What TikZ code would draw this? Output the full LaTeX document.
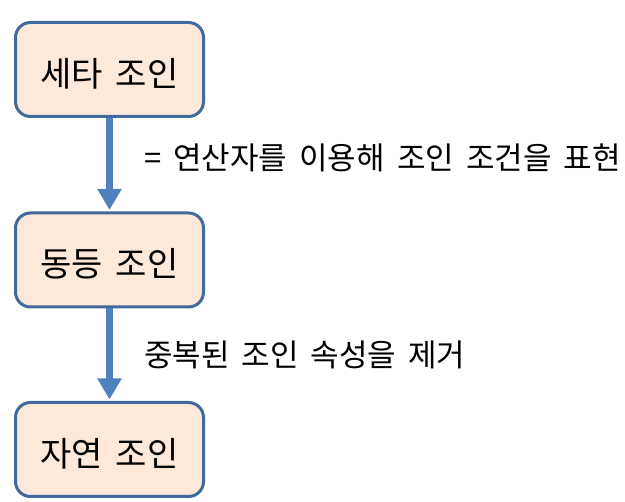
\documentclass[tikz,border=0pt]{standalone}
\usepackage{fontspec}
\newfontfamily\kr{Noto Sans CJK KR}
\usetikzlibrary{arrows.meta}
\definecolor{boxfill}{HTML}{FDE9D9}
\definecolor{boxline}{HTML}{41699B}
\definecolor{arrowblue}{HTML}{4F81BD}
\newcommand{\krtext}{\kr\fontsize{31}{36}\selectfont\spaceskip=12pt\relax}
\newcommand{\krbox}{\kr\fontsize{34}{40}\selectfont\spaceskip=13pt\relax}
\begin{document}
\begin{tikzpicture}[x=1pt,y=1pt,
  stepbox/.style={draw=boxline,line width=3pt,fill=boxfill,rounded corners=15pt,
    minimum width=188pt,minimum height=94pt,inner sep=0pt,
    text height=34pt,text depth=0pt,font=\krbox},
  flow/.style={draw=arrowblue,line width=7pt,-{Triangle[width=23pt,length=21pt]}},
  lbl/.style={anchor=west,inner sep=0pt,text height=24pt,text depth=0pt,font=\krtext}]
\useasboundingbox (0,0) rectangle (625,-502);
\node[stepbox] (a) at (109.5,-69.5) {세타 조인};
\node[stepbox] (b) at (109.5,-260) {동등 조인};
\node[stepbox] (c) at (109.5,-449.5) {자연 조인};
\draw[flow] (a.south) -- ([yshift=1.5pt]b.north);
\draw[flow] (b.south) -- ([yshift=1.5pt]c.north);
\node[lbl] (l1) at (144,-158) {= 연산자를 이용해 조인 조건을 표현};
\node[lbl] (l2) at (144,-355) {중복된 조인 속성을 제거};
\end{tikzpicture}
\end{document}
